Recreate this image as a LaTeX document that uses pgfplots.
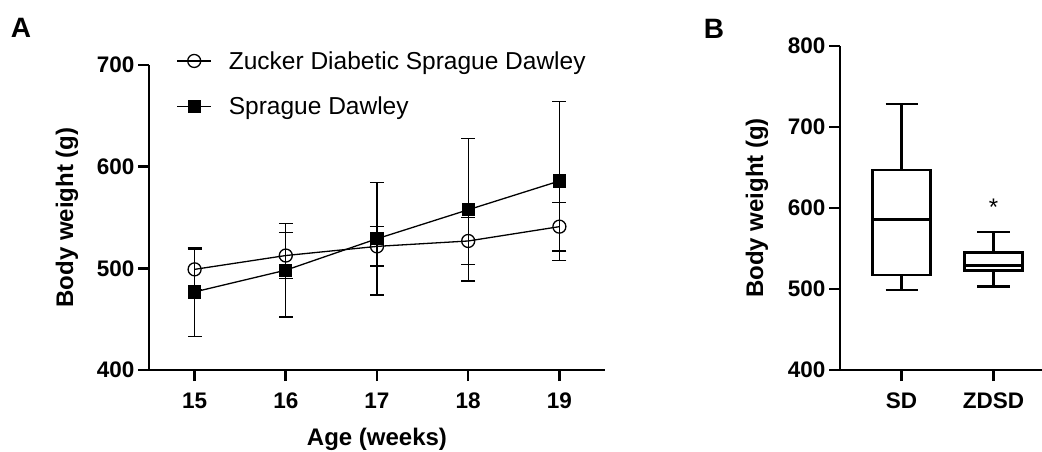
\documentclass[border=0pt]{standalone}
\usepackage{pgfplots}
\pgfplotsset{compat=1.18}
\usepackage{fontspec}
\setmainfont{Liberation Sans}
\begin{document}
\begin{tikzpicture}
\useasboundingbox (0pt,0pt) rectangle (1042pt,451pt);
\pgfplotsset{
  common/.style={
    scale only axis,
    anchor=south west,
    axis x line*=bottom,
    axis y line*=left,
    axis line style={line width=2.6pt, black},
    tick align=outside,
    major tick length=11pt,
    major tick style={line width=2.6pt, black},
    minor tick num=0,
    /pgf/number format/assume math mode=true,
    tick label style={font=\fontsize{22.5}{26}\selectfont\bfseries},
    xticklabel style={yshift=-8pt},
    label style={font=\fontsize{24}{28}\selectfont\bfseries},
    clip=false,
  }
}
\begin{axis}[common,
  at={(149pt,81pt)}, width=456pt, height=305pt,
  xmin=14.5, xmax=19.5, ymin=400, ymax=700,
  xtick={15,16,17,18,19}, ytick={400,500,600,700},
  xlabel={Age (weeks)}, ylabel={Body weight (g)},
  xlabel style={at={(axis description cs:0.5,-0.228)}, anchor=center},
  ylabel style={at={(axis description cs:-0.18,0.5)}, anchor=center},
  legend style={at={(axis description cs:0.06,1.052)}, anchor=north west,
    draw=none, fill=none, font=\fontsize{24.5}{28}\selectfont, row sep=22pt, column sep=15pt, inner sep=0pt},
  legend cell align=left,
  legend image code/.code={\draw[mark repeat=2,mark phase=2,#1] plot coordinates {(0pt,0pt) (17pt,0pt) (34pt,0pt)};},
]
\addplot[black, line width=1.3pt, mark=o, mark size=6.5pt, mark options={fill=white, solid, line width=1.3pt},
  error bars/.cd, y dir=both, y explicit,
  error bar style={line width=1.3pt, black},
  error mark options={rotate=90, mark size=7pt, line width=1.3pt, black}]
coordinates {(15,499) +- (0,20) (16,512.6) +- (0,22.8) (17,521.6) +- (0,19.3) (18,526.9) +- (0,23) (19,541) +- (0,24)};
\addlegendentry{Zucker Diabetic Sprague Dawley}
\addplot[black, line width=1.3pt, mark=square*, mark size=6pt, mark options={fill=black, solid},
  error bars/.cd, y dir=both, y explicit,
  error bar style={line width=1.3pt, black},
  error mark options={rotate=90, mark size=7pt, line width=1.3pt, black}]
coordinates {(15,476.8) +- (0,44) (16,498.2) +- (0,46) (17,529.1) +- (0,55.4) (18,557.6) +- (0,70) (19,585.9) +- (0,78)};
\addlegendentry{Sprague Dawley}
\end{axis}
\begin{axis}[common,
  at={(840pt,81pt)}, width=205pt, height=324pt,
  xmin=0.33, xmax=2.56, ymin=400, ymax=800,
  xtick={1,2}, xticklabels={SD,ZDSD}, ytick={400,500,600,700,800},
  ylabel={Body weight (g)},
  ylabel style={at={(axis description cs:-0.405,0.5)}, anchor=center},
  unbounded coords=jump,
]
% SD box plot: whiskers 498.8 / 728.4, quartiles 517.3 / 646.9, median 586
\addplot[black, line width=2.8pt, mark=none, line join=miter] coordinates {
  (1,517.3) (1.315,517.3) (1.315,646.9) (0.685,646.9) (0.685,517.3) (1,517.3)
  (1,nan) (0.685,586) (1.315,586)
  (1,nan) (1,646.9) (1,728.4)
  (1,nan) (0.825,728.4) (1.175,728.4)
  (1,nan) (1,517.3) (1,498.8)
  (1,nan) (0.825,498.8) (1.175,498.8)
};
% ZDSD box plot: whiskers 503.3 / 570.4, quartiles 522.6 / 544.8, median 529.2
\addplot[black, line width=2.8pt, mark=none, line join=miter] coordinates {
  (2,522.6) (2.315,522.6) (2.315,544.8) (1.685,544.8) (1.685,522.6) (2,522.6)
  (2,nan) (1.685,529.2) (2.315,529.2)
  (2,nan) (2,544.8) (2,570.4)
  (2,nan) (1.825,570.4) (2.175,570.4)
  (2,nan) (2,522.6) (2,503.3)
  (2,nan) (1.825,503.3) (2.175,503.3)
};
\node[anchor=base, font=\fontsize{24}{24}\selectfont] at (axis cs:2,591) {*};
\end{axis}
\node[font=\fontsize{28}{30}\selectfont\bfseries] at (21pt,423pt) {A};
\node[font=\fontsize{28}{30}\selectfont\bfseries] at (714pt,422pt) {B};
\end{tikzpicture}
\end{document}
